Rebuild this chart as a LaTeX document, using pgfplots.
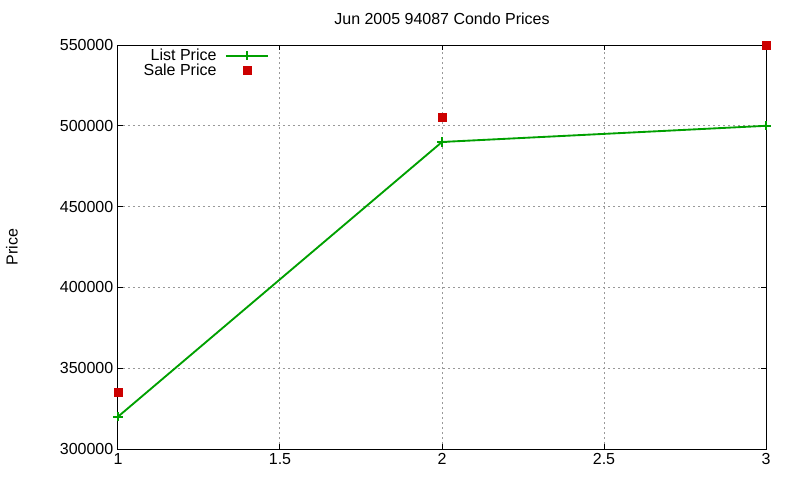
\documentclass[border=0pt]{standalone}
\usepackage{pgfplots}
\pgfplotsset{compat=1.18}
\usepackage{fontspec}
\setmainfont{Liberation Sans}
\definecolor{gpgreen}{HTML}{00A000}
\definecolor{gpred}{HTML}{CC0000}
\begin{document}
\begin{tikzpicture}
\path[use as bounding box] (-88.5pt,-23.25pt) rectangle (511.5pt,336.75pt);
\begin{axis}[
    scale only axis,
    width=486pt, height=303pt,
    xmin=1, xmax=3, ymin=300000, ymax=550000,
    xtick={1,1.5,2,2.5,3},
    ytick={300000,350000,400000,450000,500000,550000},
    font=\fontsize{12}{14}\selectfont,
    /pgf/number format/assume math mode=true,
    scaled y ticks=false,
    yticklabel style={/pgf/number format/fixed, /pgf/number format/1000 sep={}},
    xticklabel style={/pgf/number format/fixed},
    tick align=inside, major tick length=4pt,
    tick style={black, line width=0.75pt},
    axis line style={black, line width=0.75pt},
    grid=major,
    major grid style={gray!80, dash pattern=on 1.5pt off 2.25pt, line width=0.75pt},
    title={Jun 2005 94087 Condo Prices},
    title style={at={(axis description cs:0.5,1)}, anchor=center, yshift=13.5pt},
    ylabel={Price},
    ylabel style={at={(axis description cs:-0.1636,0.5)}, anchor=center},
    legend cell align=right,
    legend plot pos=right,
    legend style={draw=none, fill=none, at={(axis description cs:0.240,1.004)},
      anchor=north east, row sep=-3pt, font=\fontsize{12}{12}\selectfont},
    legend image code/.code={\path (0cm,0cm);
      \draw[mark repeat=2,mark phase=2,#1]
      plot coordinates {(0.15cm,0cm) (0.71cm,0cm) (1.27cm,0cm)};},
]
\addplot[gpgreen, line width=1.4pt, mark=+, mark size=3.5pt,
  mark options={line width=1.3pt}] coordinates {
  (1,320000) (2,490000) (3,500000)
};
\addlegendentry{List Price}
\addplot[only marks, mark=square*, mark size=3pt, gpred,
  mark options={draw=gpred, fill=gpred}] coordinates {
  (1,335000) (2,505000) (3,550000)
};
\addlegendentry{Sale Price}
\end{axis}
\end{tikzpicture}
\end{document}
